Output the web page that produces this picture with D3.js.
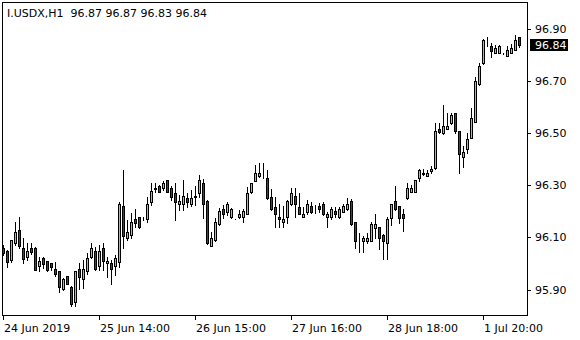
<!DOCTYPE html>
<html>
<head>
<meta charset="utf-8">
<title>I.USDX H1</title>
<script src="https://d3js.org/d3.v7.min.js"></script>
<style>
  body { margin: 0; background: #fff; }
  svg text { font-family: "DejaVu Sans", sans-serif; font-size: 11px; fill: #000; white-space: pre; }
</style>
</head>
<body>
<div id="chart"></div>
<script>
// H1 bars (oldest first)
const opens = [96.060,96.047,96.015,96.077,96.127,96.058,96.026,96.058,96.058,95.990,
  96.020,96.009,96.001,95.978,95.971,95.901,95.952,95.908,95.853,95.978,
  95.940,95.971,96.026,96.049,95.990,96.058,96.001,96.001,95.990,96.007,
  96.220,96.097,96.110,96.171,96.178,96.178,96.170,96.237,96.288,96.297,
  96.288,96.320,96.288,96.272,96.227,96.227,96.250,96.227,96.259,96.269,
  96.308,96.240,96.068,96.090,96.151,96.208,96.199,96.178,96.171,96.178,
  96.178,96.188,96.276,96.317,96.337,96.340,96.327,96.256,96.217,96.178,
  96.158,96.178,96.227,96.259,96.217,96.178,96.199,96.220,96.209,96.220,
  96.228,96.178,96.178,96.201,96.178,96.199,96.208,96.240,96.158,96.079,
  96.087,96.087,96.087,96.137,96.139,96.110,96.077,96.176,96.240,96.220,
  96.188,96.250,96.276,96.276,96.327,96.346,96.337,96.355,96.365,96.518,
  96.500,96.518,96.538,96.577,96.509,96.408,96.438,96.481,96.544,96.687,
  96.768,96.852,96.836,96.807,96.807,96.807,96.797,96.807,96.819,96.870];
const highs = [96.071,96.051,96.090,96.158,96.179,96.098,96.079,96.077,96.063,96.023,
  96.023,96.009,96.003,96.007,95.971,95.945,95.952,95.913,95.971,96.001,
  96.015,96.039,96.077,96.062,96.071,96.077,96.026,96.013,96.033,96.237,
  96.359,96.167,96.195,96.208,96.180,96.178,96.256,96.308,96.308,96.301,
  96.317,96.320,96.297,96.308,96.263,96.320,96.269,96.281,96.297,96.340,
  96.323,96.242,96.122,96.174,96.212,96.224,96.237,96.212,96.172,96.205,
  96.208,96.295,96.310,96.378,96.386,96.386,96.359,96.284,96.256,96.228,
  96.220,96.244,96.288,96.288,96.272,96.217,96.244,96.237,96.224,96.231,
  96.236,96.199,96.217,96.215,96.216,96.228,96.250,96.247,96.158,96.115,
  96.106,96.115,96.159,96.190,96.140,96.113,96.179,96.230,96.297,96.222,
  96.208,96.310,96.301,96.322,96.361,96.361,96.359,96.374,96.540,96.538,
  96.608,96.577,96.577,96.578,96.509,96.449,96.500,96.595,96.717,96.768,
  96.861,96.868,96.845,96.839,96.837,96.808,96.836,96.841,96.877,96.870];
const lows = [96.033,95.987,96.007,96.071,96.059,96.002,96.015,96.035,95.973,95.971,
  95.981,95.971,95.975,95.952,95.889,95.898,95.920,95.837,95.837,95.901,
  95.907,95.958,96.021,95.976,95.975,95.975,95.949,95.920,95.956,95.987,
  96.058,96.090,96.097,96.139,96.136,96.167,96.160,96.224,96.276,96.273,
  96.281,96.276,96.244,96.167,96.205,96.205,96.217,96.220,96.224,96.256,
  96.174,96.075,96.067,96.088,96.149,96.174,96.186,96.174,96.169,96.174,
  96.158,96.188,96.269,96.316,96.333,96.327,96.249,96.207,96.139,96.139,
  96.139,96.156,96.226,96.179,96.188,96.177,96.190,96.192,96.192,96.199,
  96.186,96.139,96.170,96.179,96.175,96.198,96.207,96.149,96.058,96.045,
  96.045,96.077,96.086,96.097,96.055,96.017,96.017,96.147,96.207,96.156,
  96.126,96.249,96.275,96.275,96.317,96.340,96.336,96.346,96.363,96.500,
  96.497,96.516,96.535,96.500,96.346,96.370,96.423,96.480,96.543,96.685,
  96.766,96.836,96.793,96.806,96.806,96.805,96.796,96.806,96.818,96.830];
const closes = [96.039,96.007,96.090,96.119,96.068,96.017,96.049,96.044,95.975,96.010,
  95.998,95.975,95.987,95.959,95.909,95.940,95.920,95.844,95.971,95.949,
  95.978,96.022,96.058,95.978,96.049,96.010,96.010,95.977,96.022,96.228,
  96.106,96.122,96.160,96.156,96.139,96.177,96.227,96.279,96.287,96.276,
  96.308,96.276,96.256,96.237,96.240,96.259,96.237,96.250,96.257,96.320,
  96.227,96.078,96.097,96.160,96.201,96.188,96.228,96.208,96.170,96.188,
  96.201,96.269,96.308,96.347,96.347,96.339,96.250,96.208,96.188,96.170,
  96.170,96.240,96.269,96.227,96.188,96.190,96.228,96.199,96.208,96.208,
  96.188,96.188,96.208,96.188,96.208,96.220,96.228,96.150,96.087,96.078,
  96.097,96.097,96.151,96.151,96.097,96.087,96.171,96.228,96.208,96.176,
  96.176,96.288,96.288,96.320,96.359,96.345,96.346,96.361,96.509,96.504,
  96.528,96.528,96.570,96.509,96.419,96.429,96.477,96.557,96.700,96.758,
  96.857,96.851,96.817,96.828,96.836,96.806,96.819,96.828,96.857,96.840];

const timeLabels = ["24 Jun 2019", "25 Jun 14:00", "26 Jun 15:00", "27 Jun 16:00", "28 Jun 18:00", "1 Jul 20:00"];
const timeLabelBars = [0, 24, 48, 72, 96, 120];
const priceTicks = [95.90, 96.10, 96.30, 96.50, 96.70, 96.90];
const header = "I.USDX,H1  96.87 96.87 96.83 96.84";
const lastPrice = 96.84;

const width = 580, height = 340;
const plot = { left: 2, top: 2, right: 527, bottom: 315 };
const bullColor = "#86e03a", bearColor = "#e00000";

const svg = d3.select("#chart").append("svg")
  .attr("width", width).attr("height", height)
  .style("display", "block");

const bars = opens.map((o, i) => ({ i, o, h: highs[i], l: lows[i], c: closes[i] }));

const x = d3.scaleLinear().domain([0, bars.length - 1]).range([3, 3 + 4 * (bars.length - 1)]);
const y = d3.scaleLinear().domain([95.90, 96.90]).range([289.5, 29]);

// frame
svg.append("rect")
  .attr("x", plot.left + 0.5).attr("y", plot.top + 0.5)
  .attr("width", plot.right - plot.left).attr("height", plot.bottom - plot.top)
  .attr("fill", "none").attr("stroke", "#000").attr("shape-rendering", "crispEdges");

const candles = svg.append("g").attr("shape-rendering", "crispEdges");

// wicks
candles.selectAll("line.wick").data(bars).join("line")
  .attr("class", "wick")
  .attr("x1", d => Math.round(x(d.i)) + 0.5).attr("x2", d => Math.round(x(d.i)) + 0.5)
  .attr("y1", d => Math.round(y(d.h))).attr("y2", d => Math.round(y(d.l)) + 1)
  .attr("stroke", "#000");

// bodies
candles.selectAll("rect.body").data(bars).join("rect")
  .attr("class", "body")
  .attr("x", d => Math.round(x(d.i)) - 0.5)
  .attr("y", d => Math.round(y(Math.max(d.o, d.c))) + 0.5)
  .attr("width", 2)
  .attr("height", d => Math.max(0, Math.round(y(Math.min(d.o, d.c))) - Math.round(y(Math.max(d.o, d.c)))))
  .attr("fill", d => d.c >= d.o ? bullColor : bearColor)
  .attr("stroke", "#000");

// price axis
const py = svg.append("g");
py.selectAll("line").data(priceTicks).join("line")
  .attr("x1", plot.right + 1).attr("x2", plot.right + 4)
  .attr("y1", d => Math.round(y(d)) + 0.5).attr("y2", d => Math.round(y(d)) + 0.5)
  .attr("stroke", "#000");
py.selectAll("text").data(priceTicks).join("text")
  .attr("x", 535).attr("y", d => y(d) + 4)
  .text(d => d.toFixed(2));

// current price tag
const ly = Math.round(y(lastPrice));
svg.append("rect")
  .attr("x", 530).attr("y", ly - 6).attr("width", 38).attr("height", 12)
  .attr("fill", "#000");
svg.append("text")
  .attr("x", 535).attr("y", ly + 4)
  .style("fill", "#fff")
  .text(lastPrice.toFixed(2));

// time axis
const tx = svg.append("g");
tx.selectAll("line").data(timeLabelBars).join("line")
  .attr("x1", d => Math.round(x(d)) + 0.5).attr("x2", d => Math.round(x(d)) + 0.5)
  .attr("y1", plot.bottom + 1).attr("y2", plot.bottom + 5)
  .attr("stroke", "#000");
tx.selectAll("text").data(timeLabelBars).join("text")
  .attr("x", d => Math.round(x(d)) + 1).attr("y", 332)
  .text((d, k) => timeLabels[k]);

// header
svg.append("text").attr("x", 7).attr("y", 17).text(header);
</script>
</body>
</html>
